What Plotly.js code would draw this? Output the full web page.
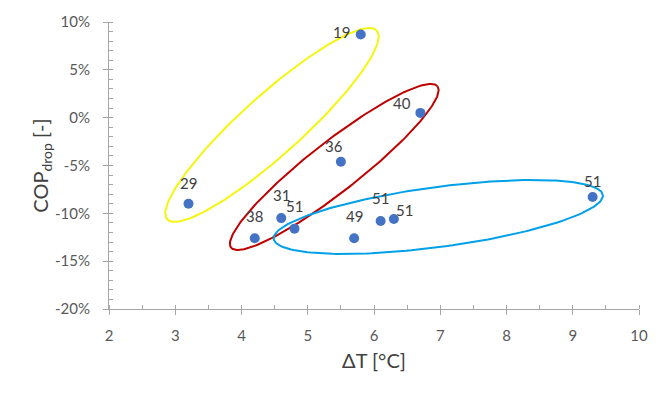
<!DOCTYPE html>
<html>
<head>
<meta charset="utf-8">
<script src="https://cdn.plot.ly/plotly-3.0.1.min.js"></script>
<style>html,body{margin:0;padding:0;background:#fff}#chart{width:669px;height:399px}</style>
</head>
<body>
<div id="chart"></div>
<script>
// Data
const deltaT = [3.2, 5.8, 6.7, 5.5, 4.6, 4.8, 4.2, 5.7, 6.1, 6.3, 9.3];
const copDrop = [-0.090, 0.087, 0.005, -0.046, -0.105, -0.116, -0.126, -0.126, -0.108, -0.106, -0.083];
const pointLabels = ["29", "19", "40", "36", "31", "51", "38", "49", "51", "51", "51"];
const xTickVals = [2, 3, 4, 5, 6, 7, 8, 9, 10];
const xTickText = ["2", "3", "4", "5", "6", "7", "8", "9", "10"];
const yTickVals = [-0.20, -0.15, -0.10, -0.05, 0, 0.05, 0.10];
const yTickText = ["-20%", "-15%", "-10%", "-5%", "0%", "5%", "10%"];

// Label offsets (px) relative to each point — styling only
const labelDX = [0, -19, -18, -7, 0, 0, 0, 0, 0, 11, 0];
const labelDY = [21, 2, 10, 16, 23, 23, 22, 22, 23, 9, 16];

// Group ellipses (center in data units; semi-axes in px; angle in degrees on screen)
const ellCenterX = [4.46, 5.40, 6.97];
const ellCenterY = [-0.0076, -0.0515, -0.1038];
const ellSemiMajor = [141, 131, 166];
const ellSemiMinor = [30, 25, 30];
const ellAngle = [42, 38, 7.6];
const ellColors = ["#f5f50f", "#c00000", "#00a0e8"];

const W = 669, H = 399;
const M = {l: 109, r: 30, t: 22, b: 90};
const xRange = [2, 10], yRange = [-0.2, 0.1];
const pxPerX = (W - M.l - M.r) / (xRange[1] - xRange[0]);
const pxPerY = (H - M.t - M.b) / (yRange[1] - yRange[0]);

const traces = [];
for (let i = 0; i < ellCenterX.length; i++) {
  const xs = [], ys = [];
  const th = ellAngle[i] * Math.PI / 180;
  for (let k = 0; k <= 200; k++) {
    const t = 2 * Math.PI * k / 200;
    const u = ellSemiMajor[i] * Math.cos(t), v = ellSemiMinor[i] * Math.sin(t);
    const px = u * Math.cos(th) - v * Math.sin(th);
    const py = u * Math.sin(th) + v * Math.cos(th);
    xs.push(ellCenterX[i] + px / pxPerX);
    ys.push(ellCenterY[i] + py / pxPerY);
  }
  traces.push({x: xs, y: ys, mode: 'lines', line: {color: ellColors[i], width: 2}, hoverinfo: 'skip', showlegend: false});
}
traces.push({
  x: deltaT, y: copDrop, mode: 'markers',
  marker: {color: '#4472c4', size: 10}, showlegend: false
});

const annotations = deltaT.map((x, i) => ({
  x: x, y: copDrop[i], xref: 'x', yref: 'y', text: pointLabels[i], showarrow: false,
  xshift: labelDX[i], yshift: labelDY[i], xanchor: 'center', yanchor: 'middle',
  font: {family: 'Lato, sans-serif', size: 15, color: '#404040'}
}));

const axisCommon = {
  showgrid: false, zeroline: false, showline: true, linecolor: '#a6a6a6', linewidth: 1,
  ticks: 'outside', ticklen: 5, tickcolor: '#a6a6a6', tickwidth: 1,
  tickfont: {family: 'Lato, sans-serif', size: 15, color: '#595959'},
  minor: {ticks: 'inside', ticklen: 4, tickcolor: '#a6a6a6', showgrid: false}
};

const layout = {
  width: W, height: H, margin: M, paper_bgcolor: '#fff', plot_bgcolor: '#fff',
  showlegend: false, annotations: annotations,
  xaxis: Object.assign({}, axisCommon, {
    range: xRange, tickmode: 'array', tickvals: xTickVals, ticktext: xTickText, ticklabelstandoff: 8,
    minor: Object.assign({}, axisCommon.minor, {dtick: 0.5, tick0: 0}),
    title: {text: 'ΔT [°C]', font: {family: 'Lato, sans-serif', size: 20, color: '#404040'}, standoff: 10}
  }),
  yaxis: Object.assign({}, axisCommon, {
    range: yRange, tickmode: 'array', tickvals: yTickVals, ticktext: yTickText, ticklabelstandoff: 10,
    minor: Object.assign({}, axisCommon.minor, {dtick: 0.01, tick0: 0}),
    title: {text: 'COP<sub>drop</sub> [-]', font: {family: 'Lato, sans-serif', size: 20, color: '#404040'}, standoff: 0}
  })
};

Plotly.newPlot('chart', traces, layout, {displayModeBar: false, staticPlot: true});
</script>
</body>
</html>
